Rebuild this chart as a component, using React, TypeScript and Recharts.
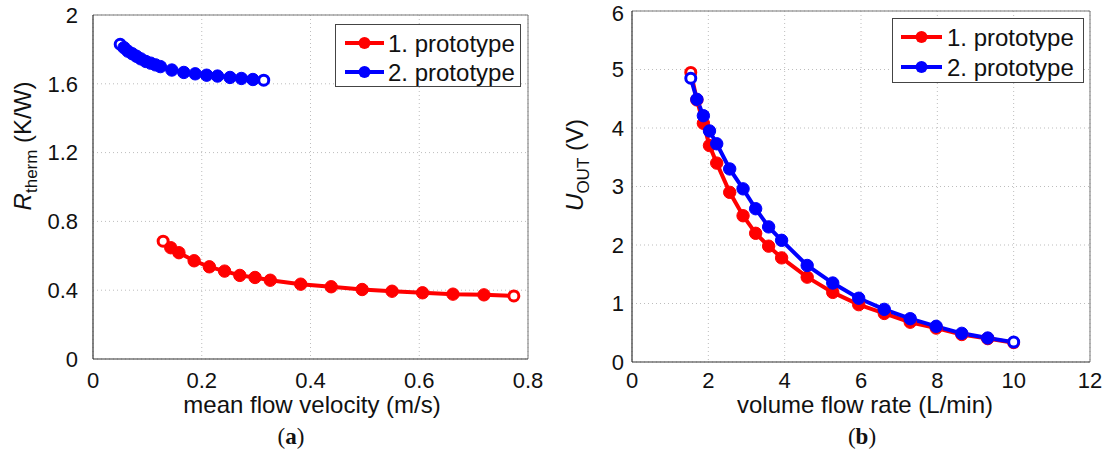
import React from 'react';
import {
  LineChart,
  Line,
  XAxis,
  YAxis,
  CartesianGrid,
  Legend,
  ReferenceLine,
} from 'recharts';

// (a) thermal resistance vs mean flow velocity
const velocityRed = [0.129, 0.143, 0.158, 0.186, 0.214, 0.242, 0.27, 0.298, 0.326, 0.382, 0.438, 0.495, 0.55, 0.606, 0.662, 0.719, 0.774];
const rthermRed = [0.685, 0.647, 0.618, 0.571, 0.536, 0.511, 0.486, 0.474, 0.458, 0.435, 0.42, 0.404, 0.394, 0.385, 0.377, 0.373, 0.367];
const velocityBlue = [0.05, 0.057, 0.064, 0.072, 0.08, 0.088, 0.097, 0.106, 0.115, 0.124, 0.145, 0.167, 0.188, 0.209, 0.229, 0.252, 0.273, 0.294, 0.314];
const rthermBlue = [1.83, 1.81, 1.79, 1.775, 1.76, 1.745, 1.73, 1.72, 1.71, 1.7, 1.68, 1.666, 1.658, 1.65, 1.645, 1.637, 1.631, 1.625, 1.621];
const velocityTicks = [0, 0.2, 0.4, 0.6, 0.8];
const rthermTicks = [0, 0.4, 0.8, 1.2, 1.6, 2];

// (b) output voltage vs volume flow rate
const flowRate = [1.54, 1.7, 1.87, 2.03, 2.22, 2.56, 2.91, 3.24, 3.58, 3.92, 4.59, 5.26, 5.94, 6.61, 7.29, 7.97, 8.64, 9.32, 10.0];
const uoutRed = [4.95, 4.48, 4.08, 3.7, 3.4, 2.9, 2.5, 2.2, 1.98, 1.78, 1.45, 1.19, 0.98, 0.83, 0.68, 0.58, 0.47, 0.4, 0.33];
const uoutBlue = [4.85, 4.49, 4.21, 3.95, 3.73, 3.3, 2.96, 2.62, 2.31, 2.08, 1.65, 1.35, 1.09, 0.9, 0.74, 0.61, 0.49, 0.41, 0.34];
const flowTicks = [0, 2, 4, 6, 8, 10, 12];
const uoutTicks = [0, 1, 2, 3, 4, 5, 6];

const seriesNames = ['1. prototype', '2. prototype'];
const RED = '#ff0000';
const BLUE = '#0000ff';

const toPoints = (xs: number[], ys: number[]) => xs.map((x, i) => ({ x, y: ys[i] }));

const FONT = '"Liberation Sans", Arial, sans-serif';
const AXIS = '#333';
const BOX = '#777';
const GRID = '#bdbdbd';

// MATLAB-ish markers: filled, ends drawn open
const makeDot = (color: string, n: number) => (props: any) => {
  const { cx, cy, index } = props;
  const end = index === 0 || index === n - 1;
  return (
    <circle
      key={`dot-${color}-${index}`}
      cx={cx}
      cy={cy}
      r={end ? 5 : 6.2}
      fill={end ? '#fff' : color}
      stroke={color}
      strokeWidth={end ? 3 : 1}
    />
  );
};

const makeLegend = (w: number, h: number, lineX: [number, number], textX: number, rows: number[]) => (props: any) => {
  const { payload } = props;
  return (
    <div style={{ position: 'relative', width: w, height: h, border: '1px solid #444', background: '#fff', boxSizing: 'border-box' }}>
      {payload.map((entry: any, i: number) => (
        <div key={`leg-${i}`} style={{ position: 'absolute', left: 0, top: rows[i] - 15, height: 30, width: w }}>
          <svg width={w} height={30} style={{ position: 'absolute', left: 0, top: 0 }}>
            <line x1={lineX[0]} x2={lineX[1]} y1={15} y2={15} stroke={entry.color} strokeWidth={4} />
            <circle cx={(lineX[0] + lineX[1]) / 2} cy={15} r={6} fill={entry.color} />
            <text x={textX} y={23.5} fontSize={24} fontFamily={FONT} fill="#111">
              {entry.value}
            </text>
          </svg>
        </div>
      ))}
    </div>
  );
};

const xTitle = (title: string, letter: string, cx: number, titleY: number, capX: number, capY: number) => () => (
  <g>
    <text x={cx} y={titleY} textAnchor="middle" fontSize={24} fontFamily={FONT} fill="#111">
      {title}
    </text>
    <text x={capX} y={capY} textAnchor="middle" fontSize={23} fontFamily='"Liberation Serif", "Times New Roman", serif' fill="#111">
      (<tspan fontWeight="bold">{letter}</tspan>)
    </text>
  </g>
);

const yTitle = (main: string, sub: string, unit: string, x: number, y: number) => () => (
  <text x={x} y={y} transform={`rotate(-90, ${x}, ${y})`} textAnchor="middle" fontSize={24} fontFamily={FONT} fill="#111">
    <tspan fontStyle="italic">{main}</tspan>
    <tspan fontSize={17} dy={6}>{sub}</tspan>
    <tspan dy={-6}>{` (${unit})`}</tspan>
  </text>
);

const tickStyle = { fontSize: 22, fill: '#111', fontFamily: FONT };

function PanelA() {
  return (
    <LineChart width={560} height={455} margin={{ top: 15, right: 32, bottom: 0, left: 0 }}>
      <CartesianGrid stroke={GRID} strokeDasharray="1 3" />
      <XAxis
        type="number"
        dataKey="x"
        domain={[0, 0.8]}
        ticks={velocityTicks}
        height={96}
        tickLine={false}
        tickSize={6}
        tickMargin={7}
        axisLine={{ stroke: AXIS, strokeWidth: 1.2 }}
        tick={tickStyle}
        label={{ content: xTitle('mean flow velocity (m/s)', 'a', 312, 413, 291, 444) }}
      />
      <YAxis
        type="number"
        dataKey="y"
        domain={[0, 2]}
        ticks={rthermTicks}
        width={93}
        tickLine={false}
        tickSize={6}
        tickMargin={9}
        axisLine={{ stroke: AXIS, strokeWidth: 1.2 }}
        tick={tickStyle}
        label={{ content: yTitle('R', 'therm', 'K/W', 31, 146) }}
      />
      <ReferenceLine y={2} stroke={BOX} />
      <ReferenceLine x={0.8} stroke={BOX} />
      <Legend
        verticalAlign="middle"
        layout="horizontal"
        content={makeLegend(186, 63, [9, 48], 52, [17.7, 46.7])}
        wrapperStyle={{ left: 335, top: 24, width: 186, height: 63 }}
      />
      <Line
        data={toPoints(velocityRed, rthermRed)}
        dataKey="y"
        name={seriesNames[0]}
        stroke={RED}
        strokeWidth={4}
        dot={makeDot(RED, velocityRed.length)}
        activeDot={false}
        isAnimationActive={false}
      />
      <Line
        data={toPoints(velocityBlue, rthermBlue)}
        dataKey="y"
        name={seriesNames[1]}
        stroke={BLUE}
        strokeWidth={4}
        dot={makeDot(BLUE, velocityBlue.length)}
        activeDot={false}
        isAnimationActive={false}
      />
    </LineChart>
  );
}

function PanelB() {
  return (
    <LineChart width={547} height={455} margin={{ top: 11, right: 17, bottom: 0, left: 0 }}>
      <CartesianGrid stroke={GRID} strokeDasharray="1 3" />
      <XAxis
        type="number"
        dataKey="x"
        domain={[0, 12]}
        ticks={flowTicks}
        height={93}
        tickLine={false}
        tickSize={6}
        tickMargin={4}
        axisLine={{ stroke: AXIS, strokeWidth: 1.2 }}
        tick={tickStyle}
        label={{ content: xTitle('volume flow rate (L/min)', 'b', 305, 413, 302, 444) }}
      />
      <YAxis
        type="number"
        dataKey="y"
        domain={[0, 6]}
        ticks={uoutTicks}
        width={72}
        tickLine={false}
        tickSize={4}
        tickMargin={4}
        axisLine={{ stroke: AXIS, strokeWidth: 1.2 }}
        tick={tickStyle}
        label={{ content: yTitle('U', 'OUT', 'V', 23, 165) }}
      />
      <ReferenceLine y={6} stroke={BOX} />
      <ReferenceLine x={12} stroke={BOX} />
      <Legend
        verticalAlign="middle"
        layout="horizontal"
        content={makeLegend(192, 65, [8, 49], 54, [18.4, 48.4])}
        wrapperStyle={{ left: 332, top: 18, width: 192, height: 65 }}
      />
      <Line
        data={toPoints(flowRate, uoutRed)}
        dataKey="y"
        name={seriesNames[0]}
        stroke={RED}
        strokeWidth={4}
        dot={makeDot(RED, flowRate.length)}
        activeDot={false}
        isAnimationActive={false}
      />
      <Line
        data={toPoints(flowRate, uoutBlue)}
        dataKey="y"
        name={seriesNames[1]}
        stroke={BLUE}
        strokeWidth={4}
        dot={makeDot(BLUE, flowRate.length)}
        activeDot={false}
        isAnimationActive={false}
      />
    </LineChart>
  );
}

export default function App() {
  return (
    <div style={{ position: 'absolute', left: 0, top: 0, width: 1107, height: 455, background: '#fff', fontFamily: FONT }}>
      <div style={{ position: 'absolute', left: 0, top: 0 }}>
        <PanelA />
      </div>
      <div style={{ position: 'absolute', left: 560, top: 0 }}>
        <PanelB />
      </div>
    </div>
  );
}
